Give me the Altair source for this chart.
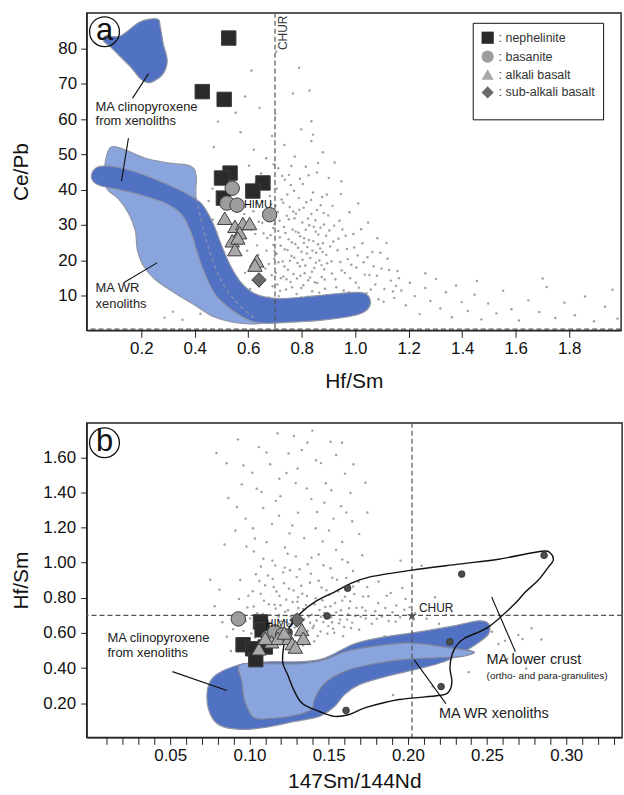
import altair as alt
import pandas as pd

FONT = "Liberation Sans"

# ================= Panel a : Hf/Sm (x) vs Ce/Pb (y) =================
bg_a = [(0.661,14.2),(0.668,22.7),(0.672,31.5),(0.677,18.9),(0.683,27.1),(0.686,35.8),(0.691,12.6),(0.694,24.3),(0.699,30.2),(0.703,16.4),
        (0.706,21.8),(0.711,33.7),(0.714,9.8),(0.718,26.5),(0.722,14.9),(0.725,37.2),(0.729,19.6),(0.733,29.4),(0.736,23.1),(0.741,11.7),
        (0.744,32.6),(0.748,17.3),(0.751,25.9),(0.755,35.1),(0.758,13.8),(0.762,21.2),(0.766,28.7),(0.769,16.1),(0.773,31.9),(0.776,24.6),
        (0.781,10.4),(0.784,19.2),(0.788,27.8),(0.791,34.3),(0.795,15.6),(0.799,22.4),(0.802,30.7),(0.806,12.9),(0.809,26.2),(0.813,18.5),
        (0.817,36.4),(0.821,23.7),(0.824,14.3),(0.828,29.9),(0.832,20.6),(0.836,33.1),(0.839,11.2),(0.843,25.4),(0.847,17.8),(0.851,31.3),
        (0.854,22.1),(0.858,13.5),(0.862,27.3),(0.866,19.9),(0.871,35.6),(0.875,15.2),(0.879,24.8),(0.883,30.1),(0.887,11.9),(0.892,21.5),
        (0.679,33.9),(0.697,20.4),(0.712,28.3),(0.731,15.4),(0.746,38.6),(0.763,25.1),(0.778,33.2),(0.793,18.3),(0.808,24.9),(0.823,31.8),
        (0.838,16.7),(0.852,28.1),(0.869,23.3),(0.884,17.4),(0.707,40.3),(0.737,42.8),(0.771,39.7),(0.804,41.6),(0.842,39.2),(0.876,37.9),
        (0.657,27.6),(0.652,36.7),(0.645,19.8),(0.639,30.9),(0.633,24.2),(0.628,42.1),(0.719,11.3),(0.757,8.6),(0.797,9.4),(0.834,8.2),
        (0.903,28.4),(0.911,19.7),(0.918,25.3),(0.926,14.6),(0.934,22.8),(0.941,31.2),(0.949,17.1),(0.957,11.4),(0.964,26.9),(0.972,20.3),
        (0.981,14.9),(0.989,9.7),(0.996,23.6),(1.004,17.9),(1.013,12.2),(1.022,28.8),(1.031,19.4),(1.042,10.6),(1.053,15.8),(1.064,22.3),
        (1.075,13.1),(1.087,8.9),(1.098,17.6),(1.109,11.8),(1.121,20.4),(1.133,14.2),(1.146,9.3),(1.158,16.9),(0.915,35.4),(0.946,38.8),
        (0.978,33.6),(1.011,36.1),(1.048,30.7),(1.083,26.2),(1.117,24.9),(1.152,12.7),
        (1.172,11.4),(1.189,7.2),(1.204,13.6),(1.223,9.8),(1.241,4.7),(1.262,12.1),(1.281,8.4),(1.302,14.7),(1.318,6.3),(1.339,10.9),
        (1.361,3.8),(1.377,12.8),(1.398,8.1),(1.421,5.6),(1.446,10.2),(1.472,3.2),(1.497,7.7),(1.528,4.9),(1.553,11.3),(1.584,6.1),
        (1.612,2.9),(1.647,8.6),(1.688,5.3),(1.716,12.4),(1.748,3.6),(1.782,7.9),(1.821,4.4),(1.859,9.7),(1.893,2.7),(1.934,6.8),
        (1.962,11.6),(1.981,3.4),(1.701,14.8),(1.262,16.3),(1.455,14.1),
        (0.603,46.8),(0.621,51.3),(0.648,44.6),(0.667,48.9),(0.689,55.2),(0.712,46.1),(0.735,52.7),(0.752,44.2),(0.774,49.4),(0.798,57.1),
        (0.815,46.5),(0.836,53.8),(0.857,44.9),(0.879,50.6),(0.901,43.3),(0.923,47.7),(0.948,42.4),(0.571,56.3),(0.553,61.8),(0.588,66.4),
        (0.642,63.2),(0.701,61.5),(0.767,67.3),(0.829,68.1),(0.836,59.4),(0.842,55.6),(0.487,59.3),(0.471,52.1),(0.466,40.3),(0.612,73.8),
        (0.790,74.6),(0.705,79.1),
        (0.452,36.8),(0.468,31.5),(0.481,27.9),(0.596,22.7),(0.588,16.4),(0.607,11.8),(0.628,6.9),(0.497,3.9),(0.421,4.8),(0.354,3.1),
        (0.318,5.4),(0.287,3.7),(0.585,33.1),(0.598,37.9),(0.612,28.6),(0.622,17.3),(0.641,12.5),(0.659,7.8),(0.684,5.9),(0.739,5.1),
        (0.664,17.6),(0.671,26.3),(0.676,9.4),(0.681,38.2),(0.688,15.7),(0.693,29.1),(0.698,22.6),(0.702,35.4),(0.709,13.1),(0.713,19.4),
        (0.717,31.2),(0.721,24.1),(0.726,8.3),(0.731,36.3),(0.735,18.2),(0.739,27.7),(0.743,14.6),(0.747,22.9),(0.752,31.6),(0.756,19.8),
        (0.759,41.3),(0.764,12.3),(0.768,33.8),(0.772,20.7),(0.777,28.1),(0.782,14.8),(0.786,23.5),(0.789,37.6),(0.794,26.8),(0.798,12.1),
        (0.803,20.1),(0.807,34.9),(0.811,16.3),(0.815,28.6),(0.819,21.9),(0.822,9.6),(0.827,25.7),(0.831,15.1),(0.835,37.1),(0.840,22.7),
        (0.845,29.5),(0.849,13.7),(0.853,19.3),(0.857,34.2),(0.861,24.5),(0.865,10.8),(0.870,29.2),(0.874,18.6),(0.878,22.3),(0.882,33.4),
        (0.886,14.5),(0.891,26.9),(0.895,19.1),(0.899,32.7),(0.906,23.9),(0.913,16.2),(0.921,29.8),(0.929,12.3),(0.937,26.1),(0.944,19.5),
        (0.952,28.7),(0.961,16.4),(0.969,23.2),(0.977,10.9),(0.985,18.7),(0.993,27.4),(1.002,13.6),(1.009,21.3),(1.018,9.1),(1.027,24.8),
        (1.036,15.9),(1.046,20.8),(1.058,11.7),(1.069,18.3),(1.081,15.6),(1.094,22.1),(1.106,8.2),(1.127,17.2),(1.141,11.1),(1.163,14.9),
        (0.667,43.7),(0.695,47.2),(0.727,43.9),(0.761,46.7),(0.793,43.1),(0.826,44.1),(0.861,47.6),(0.894,38.6),(0.652,30.6),(0.646,15.2),
        (0.638,21.5),(0.631,36.1),(0.626,27.4),(0.619,33.9),(0.673,6.1),(0.708,7.2),(0.744,6.4),(0.781,7.5),(0.818,5.9),(0.851,6.8)]

neph_a = [(0.527,83.0),(0.428,67.8),(0.510,65.6),(0.532,44.7),(0.500,43.3),(0.655,41.9),(0.617,39.6),(0.507,37.6)]
basa_a = [(0.540,40.4),(0.520,36.2),(0.558,35.6),(0.680,32.9)]
alk_a = [(0.512,31.9),(0.550,29.6),(0.580,30.4),(0.605,30.4),(0.568,27.8),(0.540,25.5),(0.561,26.3),
         (0.550,23.0),(0.632,19.8),(0.625,18.6)]
sub_a = [(0.640,14.4)]

cpx_top_a = [(0.122,83.6),(0.196,87.6),(0.260,88.4),(0.271,86.2),(0.282,81.4),(0.297,76.6),(0.282,72.9),
             (0.245,70.7),(0.222,70.4),(0.196,71.5),(0.159,74.9),(0.122,77.7),(0.085,80.5),(0.059,82.2),(0.066,83.6)]
wr_a = [(0.085,52.0),(0.141,51.2),(0.215,48.9),(0.308,47.5),(0.383,46.7),(0.405,44.1),(0.405,37.6),(0.431,29.2),
        (0.457,22.1),(0.494,15.0),(0.550,8.5),(0.624,3.5),(0.650,2.1),(0.569,2.1),(0.476,3.8),(0.401,7.2),
        (0.327,10.6),(0.252,14.5),(0.208,18.4),(0.185,23.0),(0.178,28.3),(0.152,33.4),(0.115,37.4),(0.070,40.5),
        (0.0625,46.1)]
wr_hidden_a = [(0.405,37.6),(0.431,29.2),(0.457,22.1),(0.494,15.0),(0.550,8.5),(0.624,3.5)]
cpx_band_a = [(0.029,46.1),(0.085,46.7),(0.159,45.5),(0.271,42.4),(0.364,39.1),(0.425,36.0),(0.466,30.8),
              (0.498,24.6),(0.533,18.5),(0.576,13.4),(0.630,10.3),(0.717,9.1),(0.866,10.0),(0.978,10.8),
              (1.034,10.6),(1.056,8.6),(1.045,6.0),(0.996,4.3),(0.866,2.9),(0.755,2.4),(0.662,2.1),(0.606,2.9),
              (0.539,5.8),(0.476,10.3),(0.436,16.5),(0.409,22.1),(0.386,27.8),(0.351,32.9),(0.289,36.2),
              (0.196,38.5),(0.103,40.2),(0.040,41.3),(0.014,43.3)]

leaders_a = [[(0.227,72.9),(0.167,65.9)], [(0.152,54.6),(0.126,42.4)], [(0.134,13.6),(0.260,19.3)]]
notes_a = [(0.029,63.5,"MA clinopyroxene"),(0.029,59.6,"from xenoliths"),(0.029,12.2,"MA WR"),(0.029,7.5,"xenoliths")]
himu_a = [(0.636,35.7,"HIMU")]
chur_a_x = [0.7]
base_a_y = [0.45]
chur_lab_a = [(0.73,84.5,"CHUR")]
tag_a = [(0.0625,84.8,"a")]

xt_a = [0.2,0.4,0.6,0.8,1.0,1.2,1.4,1.6,1.8]
yt_a = [10,20,30,40,50,60,70,80]

# ================= Panel b : 147Sm/144Nd (x) vs Hf/Sm (y) =================
bg_b = [(0.0962,0.612),(0.0987,0.745),(0.1004,0.683),(0.1021,0.837),(0.1036,0.574),(0.1049,0.712),(0.1063,0.896),(0.1078,0.651),(0.1092,0.784),(0.1105,0.548),
        (0.1117,0.927),(0.1129,0.703),(0.1141,0.618),(0.1153,0.862),(0.1166,0.739),(0.1178,0.589),(0.1189,0.811),(0.1201,0.667),(0.1213,0.945),(0.1226,0.721),
        (0.1238,0.603),(0.1249,0.852),(0.1261,0.694),(0.1273,0.776),(0.1286,0.631),(0.1298,0.918),(0.1309,0.742),(0.1321,0.566),(0.1334,0.823),(0.1346,0.679),
        (0.1357,0.759),(0.1369,0.612),(0.1382,0.886),(0.1394,0.705),(0.1406,0.641),(0.1418,0.798),(0.1431,0.583),(0.1443,0.731),(0.1455,0.859),(0.1467,0.662),
        (0.1479,0.748),(0.1492,0.596),(0.1504,0.817),(0.1516,0.689),(0.1528,0.624),(0.1541,0.771),(0.1553,0.903),(0.1566,0.655),(0.1578,0.729),(0.1591,0.582),
        (0.1603,0.806),(0.1617,0.676),(0.1629,0.741),(0.1642,0.628),(0.1655,0.864),(0.1668,0.697),(0.1194,0.533),(0.1262,0.547),(0.1337,0.528),(0.1409,0.552),
        (0.1072,0.978),(0.1145,1.012),(0.1223,0.972),(0.1293,1.036),(0.1368,0.991),(0.1437,1.047),(0.1512,0.968),(0.1586,1.018),(0.1654,0.953),(0.1028,1.064),
        (0.1118,0.668),(0.1186,0.702),(0.1251,0.652),(0.1318,0.699),(0.1383,0.658),(0.1452,0.692),(0.1522,0.661),(0.1159,0.761),(0.1232,0.789),(0.1307,0.804),
        (0.0934,0.794),(0.0918,0.688),(0.0942,0.902),(0.0897,0.621),
        (0.1693,0.618),(0.1712,0.745),(0.1734,0.682),(0.1751,0.809),(0.1772,0.653),(0.1794,0.724),(0.1813,0.771),(0.1836,0.694),(0.1858,0.742),(0.1879,0.668),
        (0.1903,0.718),(0.1927,0.756),(0.1951,0.689),(0.1978,0.733),(0.2012,0.747),(0.2046,0.712),(0.1744,0.861),(0.1816,0.893),(0.1892,0.827),(0.1965,0.856),
        (0.0843,1.104),(0.0911,1.183),(0.0976,1.251),(0.1034,1.138),(0.1087,1.312),(0.1142,1.221),(0.1196,1.379),(0.1253,1.167),(0.1307,1.284),(0.1362,1.423),
        (0.1418,1.196),(0.1473,1.341),(0.1531,1.251),(0.1586,1.118),(0.1638,1.397),(0.1693,1.163),(0.1744,1.286),(0.0867,1.368),(0.0952,1.446),(0.1018,1.512),
        (0.1076,1.403),(0.1131,1.561),(0.1189,1.478),(0.1247,1.622),(0.1304,1.536),(0.1366,1.684),(0.1421,1.583),(0.1482,1.452),(0.1547,1.613),(0.1603,1.507),
        (0.0792,1.624),(0.0856,1.566),(0.0928,1.702),(0.1059,1.658),(0.1178,1.737),(0.1281,1.721),(0.1397,1.752),(0.1512,1.689),(0.1657,1.561),(0.1732,1.455),
        (0.0981,1.092),(0.1224,1.087),(0.1463,1.121),(0.1712,1.043),
        (0.2118,0.681),(0.2197,0.652),(0.2263,0.618),(0.2304,0.596),(0.2378,0.641),(0.2452,0.574),(0.2531,0.607),(0.2614,0.556),(0.2698,0.589),(0.2781,0.627),
        (0.2843,0.563),(0.2628,0.452),(0.2747,0.398),(0.2384,0.377),(0.2156,0.296),(0.1907,0.247),(0.1774,0.403),(0.1688,0.537),(0.1852,0.582),(0.2087,0.983),
        (0.1954,1.012),(0.2172,0.803),
        (0.0781,0.752),(0.0829,0.661),(0.0857,0.578),(0.0752,0.903),(0.0811,0.846),(0.0883,0.497),
        (0.0975,0.667),(0.0993,0.812),(0.1012,0.597),(0.1027,0.751),(0.1041,0.934),(0.1056,0.634),(0.1071,0.823),(0.1084,0.708),(0.1099,0.872),(0.1111,0.587),
        (0.1123,0.764),(0.1135,0.659),(0.1147,0.908),(0.1159,0.627),(0.1171,0.836),(0.1184,0.691),(0.1196,0.758),(0.1207,0.612),(0.1219,0.883),(0.1232,0.663),
        (0.1244,0.729),(0.1256,0.957),(0.1267,0.591),(0.1279,0.842),(0.1291,0.676),(0.1303,0.778),(0.1315,0.623),(0.1327,0.869),(0.1339,0.737),(0.1351,0.581),
        (0.1363,0.811),(0.1375,0.694),(0.1388,0.937),(0.1399,0.628),(0.1412,0.763),(0.1424,0.671),(0.1437,0.897),(0.1449,0.608),(0.1461,0.786),(0.1473,0.714),
        (0.1486,0.843),(0.1498,0.639),(0.1511,0.752),(0.1523,0.914),(0.1535,0.601),(0.1548,0.718),(0.1561,0.837),(0.1573,0.676),(0.1586,0.784),(0.1598,0.634),
        (0.1611,0.913),(0.1623,0.707),(0.1636,0.781),(0.1649,0.659),(0.1662,0.822),(0.1676,0.743),(0.1689,0.891),(0.1703,0.692),(0.1718,0.807),(0.1733,0.727),
        (0.1088,1.023),(0.1163,0.984),(0.1241,1.051),(0.1317,0.963),(0.1392,1.028),(0.1468,0.985),(0.1547,1.072),(0.1621,1.003),(0.1023,1.196),(0.1109,1.117),
        (0.1187,1.267),(0.1271,1.212),(0.1346,1.141),(0.1427,1.289),(0.1502,1.183),(0.1579,1.322),(0.1649,1.236),(0.0921,1.317),(0.1046,1.421),(0.1167,1.352),
        (0.1292,1.453),(0.1391,1.362),(0.1517,1.412),(0.1612,1.286),(0.0962,1.553),(0.1108,1.628),(0.1234,1.511),(0.1331,1.642),(0.1452,1.567),(0.1584,1.683),
        (0.1804,0.681),(0.1867,0.812),(0.1923,0.664),(0.1986,0.794),(0.2034,0.675),(0.2241,0.704),(0.2336,0.562),(0.2487,0.629),(0.2572,0.537),(0.2724,0.566)]

neph_b = [(0.107,0.663),(0.108,0.618),(0.096,0.533),(0.102,0.510),(0.104,0.448),(0.110,0.520)]
basa_b = [(0.093,0.680),(0.112,0.575),(0.116,0.606),(0.121,0.590)]
alk_b = [(0.106,0.51),(0.114,0.55),(0.118,0.57),(0.125,0.57),(0.127,0.54),(0.133,0.62),(0.134,0.57),
         (0.129,0.52),(0.110,0.57),(0.122,0.60)]
sub_b = [(0.130,0.674)]
crust_pts_b = [(0.125,0.606),(0.149,0.697),(0.162,0.855),(0.234,0.935),(0.286,1.042),(0.2265,0.55),
               (0.221,0.295),(0.161,0.159)]

crust_b = [(0.121,0.436),(0.1222,0.550),(0.1254,0.635),(0.1317,0.708),(0.1411,0.776),(0.1536,0.833),
           (0.1631,0.878),(0.1756,0.918),(0.2026,0.958),(0.2322,0.992),(0.2573,1.020),(0.2843,1.065),
           (0.2900,1.054),(0.2918,1.014),(0.2887,0.975),(0.2824,0.901),(0.2742,0.833),(0.2667,0.759),
           (0.2510,0.635),(0.2353,0.567),(0.2291,0.504),(0.2266,0.408),(0.2278,0.323),(0.2259,0.266),
           (0.2196,0.244),(0.1945,0.221),(0.1738,0.176),(0.1631,0.136),(0.1536,0.125),(0.1442,0.153),
           (0.1335,0.198),(0.1285,0.266),(0.1241,0.363)]
cpx_b = [(0.0732,0.255),(0.0764,0.340),(0.0846,0.391),(0.0971,0.425),(0.1128,0.436),(0.1317,0.436),
         (0.1442,0.448),(0.1536,0.482),(0.1662,0.538),(0.1819,0.572),(0.2070,0.606),(0.2290,0.640),
         (0.2447,0.669),(0.2510,0.652),(0.2510,0.595),(0.2435,0.538),(0.2334,0.482),(0.2228,0.436),
         (0.2070,0.397),(0.1882,0.357),(0.1694,0.306),(0.1600,0.249),(0.1536,0.181),(0.1442,0.125),
         (0.1285,0.096),(0.1097,0.062),(0.0940,0.051),(0.0814,0.074),(0.0751,0.142)]
wr_b = [(0.0940,0.419),(0.1128,0.425),(0.1317,0.425),(0.1474,0.448),(0.1600,0.493),(0.1756,0.521),
        (0.2007,0.544),(0.2228,0.521),(0.2416,0.493),(0.2334,0.465),(0.2196,0.459),(0.1976,0.448),
        (0.1756,0.419),(0.1600,0.380),(0.1474,0.312),(0.1411,0.221),(0.1392,0.164),(0.1285,0.130),
        (0.1128,0.113),(0.1027,0.119),(0.0971,0.210),(0.0952,0.323)]

leaders_b = [[(0.0514,0.380),(0.0858,0.272)], [(0.2039,0.448),(0.2240,0.198)], [(0.2529,0.805),(0.2679,0.493)]]
notes_b = [(0.0104,0.569,"MA clinopyroxene",13),(0.0104,0.487,"from xenoliths",13),
           (0.2196,0.136,"MA WR xenoliths",14.5),(0.2497,0.448,"MA lower crust",14.5),
           (0.2497,0.357,"(ortho- and para-granulites)",10)]
himu_b = [(0.119,0.652,"HIMU")]
chur_b = [(0.2026,0.697)]
chur_lab_b = [(0.207,0.742,"CHUR")]
chur_b_x = [0.2026]
chur_b_y = [0.70]
tag_b = [(0.0085,1.683,"b")]

xt_b = [round(0.01 * k, 2) for k in range(1, 34)]
yt_b = [0.2,0.4,0.6,0.8,1.0,1.2,1.4,1.6]

types = ["nephelinite", "basanite", "alkali basalt", "sub-alkali basalt"]
type_shapes = ["square", "circle", "triangle-up", "diamond"]
type_fills = ["#2a2a2a", "#9d9d9d", "#a9a9a9", "#6a6a6a"]

STAR = ("M0,-1L0.2245,-0.309L0.951,-0.309L0.363,0.118L0.588,0.809L0,0.382L-0.588,0.809"
        "L-0.363,0.118L-0.951,-0.309L-0.2245,-0.309Z")

DARK = "#5171c3"
LIGHT = "#8aa4dd"
EDGE = "#8f95a6"
DOT = "#8f8f8f"


def pts(pairs):
    return pd.DataFrame({"x": [p[0] for p in pairs], "y": [p[1] for p in pairs], "i": list(range(len(pairs)))})


def lines(groups):
    rows = []
    for g, seg in enumerate(groups):
        for i, p in enumerate(seg):
            rows.append({"x": p[0], "y": p[1], "i": i, "g": g})
    return pd.DataFrame(rows)


def texts(items):
    return pd.DataFrame({"x": [t[0] for t in items], "y": [t[1] for t in items], "t": [t[2] for t in items]})


def samples(groups):
    rows = []
    for name, g in zip(types, groups):
        for p in g:
            rows.append({"x": p[0], "y": p[1], "type": name})
    return pd.DataFrame(rows)


def make_panel(xs, ys, ax, ay, w, h, parts):
    X = alt.X("x:Q", scale=xs, axis=ax)
    Y = alt.Y("y:Q", scale=ys, axis=ay)
    layers = []
    for p in parts:
        r = p(X, Y)
        if isinstance(r, list):
            layers.extend(r)
        else:
            layers.append(r)
    return alt.layer(*layers).properties(width=w, height=h)


xs_a = alt.Scale(domain=[-0.0045, 1.9937], nice=False, zero=False)
ys_a = alt.Scale(domain=[0.1, 90.15], nice=False, zero=False)
ax_xa = alt.Axis(title="Hf/Sm", values=xt_a, format=".1f", grid=False, tickSize=7, labelPadding=3,
                 titlePadding=14, labelOverlap=False)
ax_ya = alt.Axis(title="Ce/Pb", values=yt_a, format="d", grid=False, tickSize=6, labelPadding=4,
                 minExtent=48, maxExtent=48, titlePadding=7, labelOverlap=False)

leg = alt.Legend(orient="none", legendX=388, legendY=10, title=" ", titleOrient="bottom", titleFontSize=8,
                 titlePadding=3, labelExpr="': ' + datum.label",
                 strokeColor="#111", fillColor="white", padding=8, symbolSize=150, labelFontSize=12.5,
                 labelFont=FONT, labelColor="#333", rowPadding=1, symbolStrokeColor="#444",
                 symbolStrokeWidth=1, labelOffset=4)


def poly(data, fill, stroke, width=1.2):
    return lambda X, Y: alt.Chart(pts(data)).mark_line(
        fill=fill, stroke=stroke, strokeWidth=width, interpolate="cardinal-closed"
    ).encode(x=X, y=Y, order="i:Q")


def outline(data, color, width=1.4):
    return lambda X, Y: alt.Chart(pts(data)).mark_line(
        color=color, strokeWidth=width, interpolate="cardinal-closed"
    ).encode(x=X, y=Y, order="i:Q")


def bg(data):
    return lambda X, Y: alt.Chart(pts(data)).mark_circle(size=6, color=DOT, opacity=0.85).encode(x=X, y=Y)


def leader(groups):
    return lambda X, Y: alt.Chart(lines(groups)).mark_line(color="#111", strokeWidth=1.1).encode(
        x=X, y=Y, detail="g:N", order="i:Q")


def label(items, size, align="left", angle=0, color="#222"):
    return lambda X, Y: alt.Chart(texts(items)).mark_text(
        fontSize=size, align=align, baseline="middle", angle=angle, color=color, font=FONT
    ).encode(x=X, y=Y, text="t:N")


def vrule(vals, dash=(5, 3)):
    return lambda X, Y: alt.Chart(pd.DataFrame({"x": vals})).mark_rule(
        color="#555", strokeDash=list(dash), strokeWidth=1.2).encode(x=X)


def hrule(vals, dash=(5, 3)):
    return lambda X, Y: alt.Chart(pd.DataFrame({"y": vals})).mark_rule(
        color="#555", strokeDash=list(dash), strokeWidth=1.2).encode(y=Y)


def tag(items):
    def f(X, Y):
        ring = alt.Chart(texts(items)).mark_point(shape="circle", size=900, stroke="#111", strokeWidth=1.3,
                                                  filled=False, opacity=1).encode(x=X, y=Y)
        txt = alt.Chart(texts(items)).mark_text(fontSize=31, font=FONT, color="#111", baseline="middle",
                                               align="center", dy=-1).encode(x=X, y=Y, text="t:N")
        return [ring, txt]
    return f


def sample_layer(groups, legend):
    return lambda X, Y: alt.Chart(samples(groups)).mark_point(
        filled=True, size=210, stroke="#3c3c3c", strokeWidth=1, opacity=1
    ).encode(
        x=X, y=Y,
        shape=alt.Shape("type:N", scale=alt.Scale(domain=types, range=type_shapes), legend=legend),
        fill=alt.Fill("type:N", scale=alt.Scale(domain=types, range=type_fills), legend=legend),
    )


panel_a = make_panel(xs_a, ys_a, ax_xa, ax_ya, 537, 319, [
    bg(bg_a),
    poly(wr_a, LIGHT, EDGE),
    poly(cpx_band_a, DARK, EDGE),
    poly(cpx_top_a, DARK, EDGE),
    lambda X, Y: alt.Chart(pts(wr_hidden_a)).mark_line(color="#8d93ad", strokeDash=[4, 3], strokeWidth=1.1,
                                                       interpolate="cardinal").encode(x=X, y=Y, order="i:Q"),
    vrule(chur_a_x),
    hrule(base_a_y),
    leader(leaders_a),
    label(notes_a, 13),
    label(himu_a, 11, align="center", color="#111"),
    label(chur_lab_a, 12, align="center", angle=270, color="#333"),
    tag(tag_a),
    sample_layer([neph_a, basa_a, alk_a, sub_a], leg),
])

xs_b = alt.Scale(domain=[-0.0028, 0.3352], nice=False, zero=False)
ys_b = alt.Scale(domain=[0.0057, 1.796], nice=False, zero=False)
ax_xb = alt.Axis(title="147Sm/144Nd", values=xt_b,
                 labelExpr="round(datum.value * 100) % 5 == 0 ? format(datum.value, '.2f') : ''",
                 grid=False, tickSize=7, labelPadding=3, titlePadding=7, labelOverlap=False)
ax_yb = alt.Axis(title="Hf/Sm", values=yt_b, format=".2f", grid=False, tickSize=6, labelPadding=5,
                 minExtent=48, maxExtent=48, titlePadding=7, labelOverlap=False)


def notes_b_layers(X, Y):
    return [label([n[:3]], n[3])(X, Y) for n in notes_b]


panel_b = make_panel(xs_b, ys_b, ax_xb, ax_yb, 538, 316, [
    bg(bg_b),
    poly(cpx_b, DARK, EDGE),
    poly(wr_b, LIGHT, "#7d8499"),
    vrule(chur_b_x),
    hrule(chur_b_y),
    outline(crust_b, "#111"),
    lambda X, Y: alt.Chart(pts(crust_pts_b)).mark_circle(size=45, color="#4d4d4d", stroke="#2e2e2e",
                                                         strokeWidth=0.8, opacity=1).encode(x=X, y=Y),
    lambda X, Y: alt.Chart(pts(chur_b)).mark_point(shape=STAR, size=110, filled=True, color="#555",
                                                   opacity=1).encode(x=X, y=Y),
    leader(leaders_b),
    notes_b_layers,
    label(chur_lab_b, 12, color="#222"),
    sample_layer([neph_b, basa_b, alk_b, sub_b], None),
    label(himu_b, 11, align="center", color="#111"),
    tag(tag_b),
])

chart = alt.vconcat(panel_a, panel_b, spacing=29).resolve_scale(
    fill="independent", shape="independent"
).properties(
    padding={"left": 10, "top": 9, "right": 0, "bottom": 0}
).configure_view(
    stroke="#222", strokeWidth=1.4
).configure_axis(
    labelFont=FONT, titleFont=FONT, labelFontSize=17, titleFontSize=21, titleFontWeight="normal",
    labelColor="#111", titleColor="#111", domainColor="#222", tickColor="#222", domainWidth=1.4, tickWidth=1
)

chart.save("out.html", embed_options={"renderer": "svg", "actions": False})
